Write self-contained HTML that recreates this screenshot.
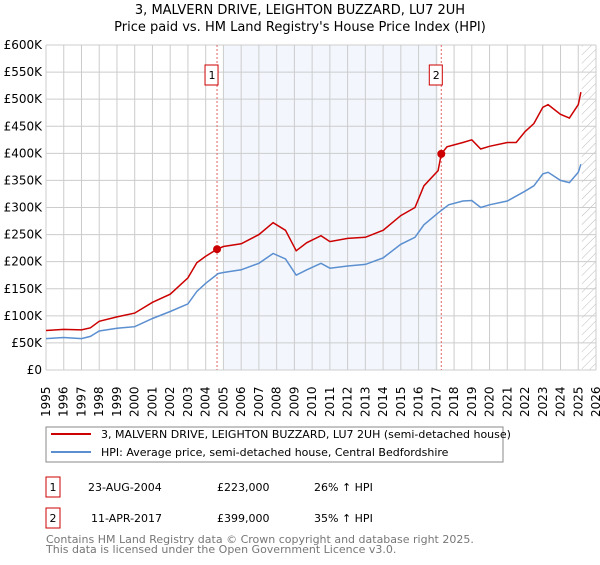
<!DOCTYPE html>
<html><head><meta charset="utf-8"><style>
body{margin:0;background:#fff;font-family:"Liberation Sans","DejaVu Sans",sans-serif;}
svg text{font-family:"DejaVu Sans","Liberation Sans",sans-serif;}
</style></head><body>
<svg id="c" width="600" height="560" xmlns="http://www.w3.org/2000/svg">
<text x="300" y="14" text-anchor="middle" font-size="13">3, MALVERN DRIVE, LEIGHTON BUZZARD, LU7 2UH</text>
<text x="300" y="31" text-anchor="middle" font-size="13">Price paid vs. HM Land Registry's House Price Index (HPI)</text>
<defs><pattern id="h" width="6" height="6" patternUnits="userSpaceOnUse" patternTransform="rotate(45)"><line x1="0" y1="0" x2="0" y2="6" stroke="#bbb" stroke-width="1"/></pattern></defs>
<g id="grid"></g><g id="marks"></g>
<rect x="46" y="427" width="457" height="35" fill="#fff" stroke="#888"/>
<line x1="51" y1="434" x2="91" y2="434" stroke="#cc0000" stroke-width="2"/>
<text x="101" y="438" font-size="11">3, MALVERN DRIVE, LEIGHTON BUZZARD, LU7 2UH (semi-detached house)</text>
<line x1="51" y1="452" x2="91" y2="452" stroke="#5b8fd0" stroke-width="2"/>
<text x="101" y="456" font-size="11">HPI: Average price, semi-detached house, Central Bedfordshire</text>
<rect x="46" y="477" width="14" height="20" fill="#fff" stroke="#cc0000"/>
<text x="53" y="491" font-size="11" text-anchor="middle">1</text>
<text x="88" y="491" font-size="11">23-AUG-2004</text>
<text x="217" y="491" font-size="11">£223,000</text>
<text x="314" y="491" font-size="11">26% ↑ HPI</text>
<rect x="46" y="508" width="14" height="20" fill="#fff" stroke="#cc0000"/>
<text x="53" y="522" font-size="11" text-anchor="middle">2</text>
<text x="91" y="522" font-size="11">11-APR-2017</text>
<text x="217" y="522" font-size="11">£399,000</text>
<text x="314" y="522" font-size="11">35% ↑ HPI</text>
<text x="46" y="543" font-size="11" fill="#777">Contains HM Land Registry data © Crown copyright and database right 2025.</text>
<text x="46" y="553" font-size="11" fill="#777">This data is licensed under the Open Government Licence v3.0.</text>
</svg>
<script>
const redYears=[1995,1996,1997,1997.5,1998,1999,2000,2001,2002,2003,2003.5,2004,2004.64,2005,2006,2007,2007.8,2008.5,2009.1,2009.7,2010.5,2011,2012,2013,2014,2015,2015.8,2016.3,2017.1,2017.28,2017.6,2018.5,2019,2019.5,2020,2021,2021.5,2022,2022.5,2023,2023.3,2024,2024.5,2025,2025.15];
const redVals=[73,75,74,78,90,98,105,125,140,170,198,210,223,228,233,250,272,258,220,235,248,237,243,245,258,285,300,340,368,399,412,420,425,408,413,420,420,440,455,485,490,472,465,490,513];
const hpiYears=[1995,1996,1997,1997.5,1998,1999,2000,2001,2002,2003,2003.5,2004,2004.7,2005,2006,2007,2007.8,2008.5,2009.1,2009.7,2010.5,2011,2012,2013,2014,2015,2015.8,2016.3,2017.1,2017.7,2018.5,2019,2019.5,2020,2021,2022,2022.5,2023,2023.3,2024,2024.5,2025,2025.15];
const hpiVals=[58,60,58,62,72,77,80,95,108,122,145,160,178,180,185,197,215,205,175,185,197,188,192,195,207,232,245,268,290,305,312,313,300,305,312,330,340,362,365,350,346,365,380];
const saleYears=[2004.64,2017.28];
const saleVals=[223,399];
const yTicks=[0,50,100,150,200,250,300,350,400,450,500,550,600];
const yLabels=["£0","£50K","£100K","£150K","£200K","£250K","£300K","£350K","£400K","£450K","£500K","£550K","£600K"];
const xTicks=[1995,1996,1997,1998,1999,2000,2001,2002,2003,2004,2005,2006,2007,2008,2009,2010,2011,2012,2013,2014,2015,2016,2017,2018,2019,2020,2021,2022,2023,2024,2025,2026];
const X0=46,X1=596,Y0=370,Y1=45;
const xs=v=>X0+(v-1995)/(2026-1995)*(X1-X0);
const ys=v=>Y0-v/600*(Y0-Y1);
const NS="http://www.w3.org/2000/svg";
function mk(p,t,a){const e=document.createElementNS(NS,t);for(const k in a)e.setAttribute(k,a[k]);p.appendChild(e);return e;}
const g=document.getElementById('grid'),m=document.getElementById('marks');
let r=mk(g,'rect',{x:xs(2005),y:Y1,width:xs(2017.1)-xs(2005),height:Y0-Y1,fill:'#eef3fc',opacity:0.7});


r=mk(g,'rect',{x:xs(2025.2),y:Y1,width:X1-xs(2025.2),height:Y0-Y1,fill:'url(#h)'});


yTicks.forEach((v,i)=>{mk(g,'line',{x1:X0,x2:X1,y1:ys(v),y2:ys(v),stroke:'#ccc'});
const t=mk(g,'text',{x:X0-4,y:ys(v)+4,'text-anchor':'end','font-size':12});t.textContent=yLabels[i];

});
xTicks.forEach(v=>{mk(g,'line',{x1:xs(v),x2:xs(v),y1:Y1,y2:Y0,stroke:'#ccc'});
const t=mk(g,'text',{x:0,y:0,'font-size':12,transform:`translate(${xs(v)+4},${Y0+47}) rotate(-90)`});t.textContent=v;

});
saleYears.forEach((v,i)=>{mk(g,'line',{x1:xs(v),x2:xs(v),y1:Y1,y2:Y0,stroke:'#e06666','stroke-dasharray':'2,2'});
const b=mk(m,'rect',{x:xs(v)-14+2,y:65,width:13,height:20,fill:'#fff',stroke:'#cc0000'});


const t=mk(m,'text',{x:xs(v)-5,y:79,'font-size':11,'text-anchor':'middle'});t.textContent=i+1;});
const pts=(a,b)=>a.map((v,i)=>xs(v).toFixed(1)+','+ys(b[i]).toFixed(1)).join(' ');
let l=mk(m,'polyline',{points:pts(hpiYears,hpiVals),fill:'none',stroke:'#5b8fd0','stroke-width':1.5});


l=mk(m,'polyline',{points:pts(redYears,redVals),fill:'none',stroke:'#cc0000','stroke-width':1.5});


saleYears.forEach((v,i)=>{const c=mk(m,'circle',{cx:xs(v),cy:ys(saleVals[i]),r:4,fill:'#cc0000'});

});
</script>
</body></html>
